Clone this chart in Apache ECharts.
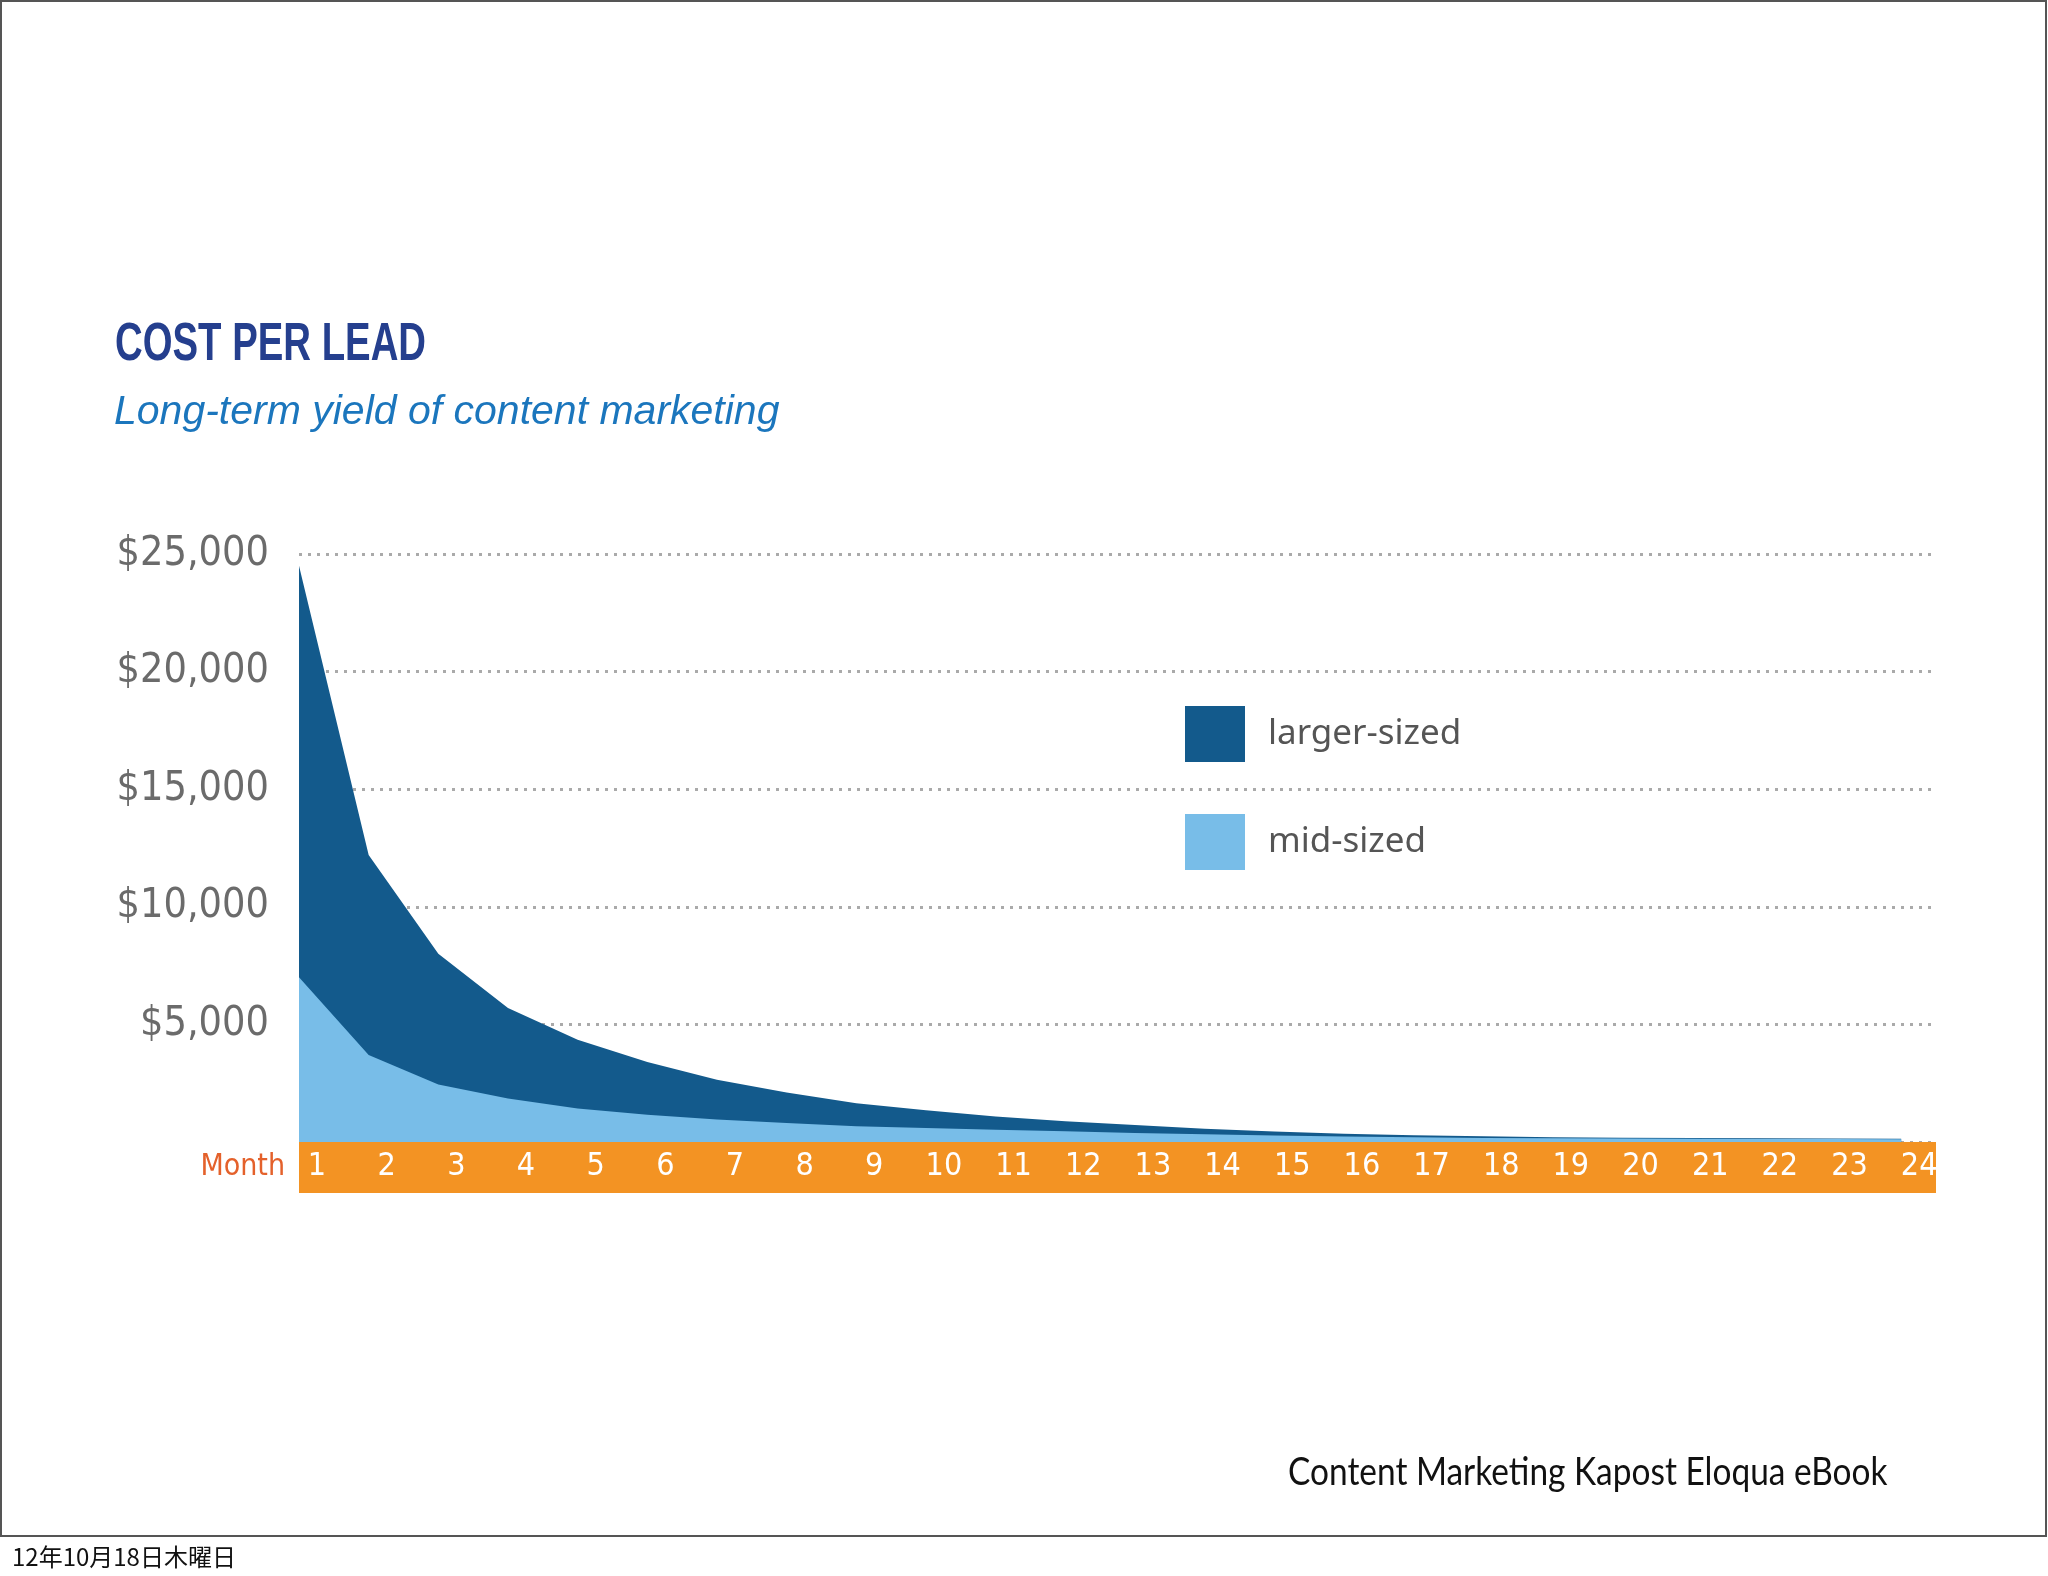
<!DOCTYPE html>
<html>
<head>
<meta charset="utf-8">
<script src="https://cdn.jsdelivr.net/npm/echarts@6/dist/echarts.min.js"></script>
<style>
html,body{margin:0;padding:0;background:#fff;}
#chart{width:2048px;height:1576px;}
</style>
</head>
<body>
<div id="chart"></div>
<script>
// ---- data ----
const months = [1,2,3,4,5,6,7,8,9,10,11,12,13,14,15,16,17,18,19,20,21,22,23,24];
const largerSized = [24500,12200,8000,5700,4350,3400,2650,2100,1650,1350,1080,880,720,560,450,350,290,240,205,185,170,160,150,140];
const midSized = [7000,3700,2450,1850,1420,1160,960,810,665,590,525,455,385,330,275,230,200,175,160,145,140,130,125,120];
const yTicks = [0,5000,10000,15000,20000,25000];
const seriesNames = ['larger-sized','mid-sized'];
const titleText = 'COST PER LEAD';
const subtitleText = 'Long-term yield of content marketing';
const axisName = 'Month';
const sourceText = 'Content Marketing Kapost Eloqua eBook';
const dateText = '12年10月18日木曜日';

const cond = "'DejaVu Sans Condensed','DejaVu Sans',sans-serif";
const DARK = '#135a8c';
const LIGHT = '#78bde8';

const chart = echarts.init(document.getElementById('chart'), null, {renderer:'canvas'});
chart.setOption({
  backgroundColor:'#ffffff',
  animation:false,
  title:[
    {text:subtitleText, left:109, top:387,
     textStyle:{fontFamily:"'Liberation Sans',Arial,sans-serif", fontStyle:'italic', fontWeight:'normal', fontSize:41, color:'#1b76bd'}},
    {text:dateText, left:7, top:1540,
     textStyle:{fontFamily:"'Noto Sans CJK JP',sans-serif", fontWeight:'normal', fontSize:24, color:'#111'}}
  ],
  graphic:[
    {type:'rect', shape:{x:1, y:1, width:2045, height:1535}, style:{fill:'none', stroke:'#555', lineWidth:2}, silent:true},
    {type:'text', x:115, y:318, scaleX:0.71, silent:true,
     style:{text:titleText, fontFamily:"'Liberation Sans',Arial,sans-serif", fontWeight:'bold', fontSize:54, fill:'#253f8e', verticalAlign:'top'}},
    {type:'text', x:1288, y:1454, scaleX:0.88, silent:true,
     style:{text:sourceText, fontFamily:"Lato,'Open Sans',sans-serif", fontWeight:'normal', fontSize:38, fill:'#111', verticalAlign:'top'}}
  ],
  legend:{
    orient:'vertical', left:1180, top:701,
    itemWidth:60, itemHeight:56, itemGap:52,
    icon:'rect',
    data:seriesNames,
    textStyle:{fontFamily:"'Noto Sans','Open Sans',sans-serif", fontSize:35, color:'#555', padding:[10,0,0,18]}
  },
  grid:{left:299, right:112, top:554, bottom:434, containLabel:false},
  xAxis:{
    type:'value', min:1, max:24.5, interval:1,
    offset:25,
    name:axisName, nameLocation:'start', nameGap:14,
    nameTextStyle:{fontFamily:cond, fontSize:30, color:'#e4612b', verticalAlign:'middle'},
    axisLine:{show:true, onZero:false, lineStyle:{color:'#f39323', width:51, cap:'butt'}},
    axisTick:{show:false},
    splitLine:{show:false},
    axisLabel:{
      margin:0, verticalAlign:'middle', padding:[0,0,0,36],
      fontFamily:cond, fontSize:32, color:'#ffffff',
      showMaxLabel:false,
      formatter:function(v){ return Number.isInteger(v) ? String(v) : ''; }
    }
  },
  yAxis:{
    type:'value', min:0, max:25000, interval:5000,
    axisLine:{show:false}, axisTick:{show:false},
    axisLabel:{
      margin:30, fontFamily:cond, fontSize:41, color:'#6b6b6b',
      formatter:function(v){ return v===0 ? '' : '$' + v.toLocaleString('en-US'); }
    },
    splitLine:{show:true, lineStyle:{color:'#aaaaaa', width:3, type:[3,6]}}
  },
  series:[
    {name:seriesNames[0], type:'line', data:months.map((m,i)=>[m,largerSized[i]]),
     symbol:'none', smooth:false, lineStyle:{width:0}, itemStyle:{color:DARK},
     areaStyle:{color:DARK, opacity:1}, z:3},
    {name:seriesNames[1], type:'line', data:months.map((m,i)=>[m,midSized[i]]),
     symbol:'none', smooth:false, lineStyle:{width:0}, itemStyle:{color:LIGHT},
     areaStyle:{color:LIGHT, opacity:1}, z:4}
  ]
});
</script>
</body>
</html>
